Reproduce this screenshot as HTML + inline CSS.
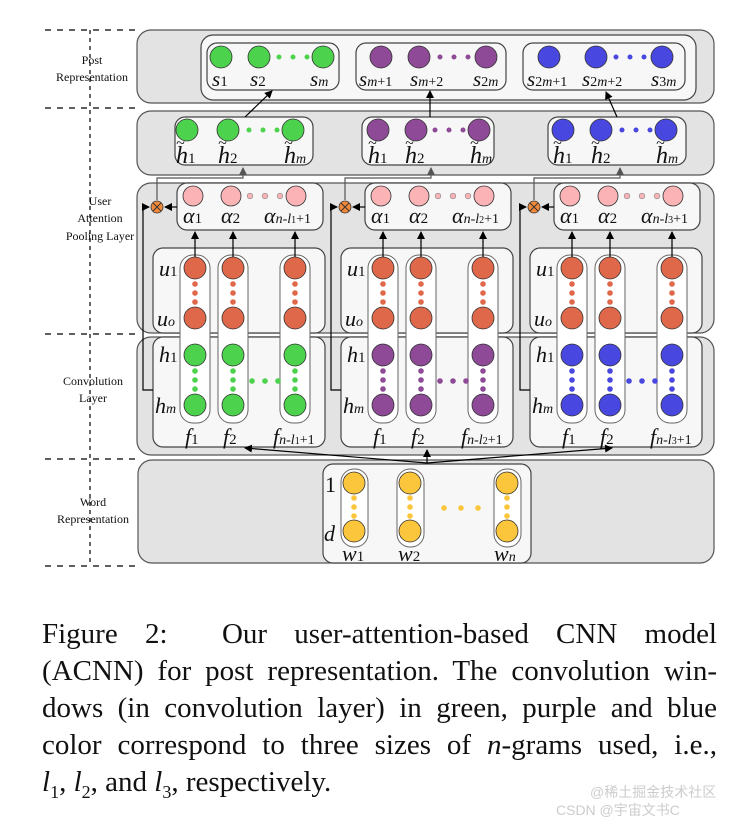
<!DOCTYPE html>
<html><head><meta charset="utf-8"><style>
body{margin:0;background:#fff;width:752px;height:821px;overflow:hidden}
svg{position:absolute;left:0;top:0}
.cap{position:absolute;left:42px;top:616px;width:675px;font-family:"Liberation Serif",serif;font-size:29px;line-height:37px;color:#111}
.cap div{text-align:justify;text-align-last:justify;white-space:nowrap;height:37px}
.cap div.last{text-align-last:left}
text{font-family:"Liberation Serif",serif;fill:#111}
.it{font-style:italic}
</style></head><body>
<svg width="752" height="821" viewBox="0 0 752 821">
<defs><marker id="a" markerWidth="8" markerHeight="8" refX="7" refY="4" orient="auto" markerUnits="userSpaceOnUse"><path d="M0,0L8,4L0,8z" fill="#000"/></marker>
<marker id="g" markerWidth="8" markerHeight="8" refX="7" refY="4" orient="auto" markerUnits="userSpaceOnUse"><path d="M0,0L8,4L0,8z" fill="#555"/></marker></defs>
<g stroke="#000" stroke-width="1.2"><line x1="90" y1="30" x2="90" y2="565" stroke-dasharray="4,4"/>
<line x1="45" y1="30" x2="135" y2="30" stroke-dasharray="6,6"/><line x1="45" y1="108" x2="135" y2="108" stroke-dasharray="6,6"/><line x1="45" y1="334" x2="135" y2="334" stroke-dasharray="6,6"/><line x1="45" y1="459" x2="135" y2="459" stroke-dasharray="6,6"/><line x1="45" y1="566" x2="135" y2="566" stroke-dasharray="6,6"/></g>
<g font-size="12" text-anchor="middle"><text x="92" y="64">Post</text><text x="92" y="81">Representation</text>
<text x="100" y="205">User</text><text x="100" y="222">Attention</text><text x="100" y="240">Pooling Layer</text>
<text x="93" y="385">Convolution</text><text x="93" y="402">Layer</text>
<text x="93" y="506">Word</text><text x="93" y="523">Representation</text></g>
<g fill="#e3e3e3" stroke="#555" stroke-width="1.2">
<rect x="137" y="30" width="577" height="73" rx="14"/><rect x="137" y="111" width="577" height="64" rx="14"/>
<rect x="137" y="183" width="577" height="150" rx="14"/><rect x="137" y="337" width="577" height="118" rx="14"/>
<rect x="138" y="460" width="576" height="103" rx="14"/></g>
<rect x="201" y="35" width="495" height="65" rx="12" fill="#f7f7f7" stroke="#444" stroke-width="1.2"/>
<g fill="#f7f7f7" stroke="#444" stroke-width="1.2"><rect x="207" y="43" width="132" height="47" rx="10"/><rect x="356" y="43" width="150" height="47" rx="10"/><rect x="523" y="43" width="162" height="47" rx="10"/></g>
<g stroke="#333" stroke-width="0.8">
<circle cx="221" cy="57" r="11" fill="#4cd24c"/><circle cx="259" cy="57" r="11" fill="#4cd24c"/><circle cx="323" cy="57" r="11" fill="#4cd24c"/>
<circle cx="381" cy="57" r="11" fill="#8e4a96"/><circle cx="419" cy="57" r="11" fill="#8e4a96"/><circle cx="486" cy="57" r="11" fill="#8e4a96"/>
<circle cx="549" cy="57" r="11" fill="#4848e0"/><circle cx="596" cy="57" r="11" fill="#4848e0"/><circle cx="662" cy="57" r="11" fill="#4848e0"/></g>
<g><circle cx="279" cy="57" r="2.5" fill="#4cd24c"/><circle cx="293" cy="57" r="2.5" fill="#4cd24c"/><circle cx="307" cy="57" r="2.5" fill="#4cd24c"/>
<circle cx="440" cy="57" r="2.5" fill="#8e4a96"/><circle cx="454" cy="57" r="2.5" fill="#8e4a96"/><circle cx="468" cy="57" r="2.5" fill="#8e4a96"/>
<circle cx="616" cy="57" r="2.5" fill="#4848e0"/><circle cx="630" cy="57" r="2.5" fill="#4848e0"/><circle cx="644" cy="57" r="2.5" fill="#4848e0"/></g>
<g font-size="21"><text x="212" y="86" class="it">s<tspan font-size="15" font-style="normal">1</tspan></text><text x="250" y="86" class="it">s<tspan font-size="15" font-style="normal">2</tspan></text><text x="310" y="86" class="it">s<tspan font-size="14">m</tspan></text>
<text x="359" y="86" class="it">s<tspan font-size="14">m</tspan><tspan font-size="14" font-style="normal">+1</tspan></text><text x="410" y="86" class="it">s<tspan font-size="14">m</tspan><tspan font-size="14" font-style="normal">+2</tspan></text><text x="473" y="86" class="it">s<tspan font-size="14" font-style="normal">2</tspan><tspan font-size="14">m</tspan></text>
<text x="527" y="86" class="it">s<tspan font-size="14" font-style="normal">2</tspan><tspan font-size="14">m</tspan><tspan font-size="14" font-style="normal">+1</tspan></text><text x="582" y="86" class="it">s<tspan font-size="14" font-style="normal">2</tspan><tspan font-size="14">m</tspan><tspan font-size="14" font-style="normal">+2</tspan></text><text x="651" y="86" class="it">s<tspan font-size="14" font-style="normal">3</tspan><tspan font-size="14">m</tspan></text></g>
<g fill="#f7f7f7" stroke="#444" stroke-width="1.2"><rect x="175" y="117" width="138" height="48" rx="10"/><rect x="362" y="117" width="132" height="48" rx="10"/><rect x="548" y="117" width="138" height="48" rx="10"/></g>
<g stroke="#333" stroke-width="0.8">
<circle cx="187" cy="130" r="11" fill="#4cd24c"/><circle cx="228" cy="130" r="11" fill="#4cd24c"/><circle cx="293" cy="130" r="11" fill="#4cd24c"/>
<circle cx="378" cy="130" r="11" fill="#8e4a96"/><circle cx="416" cy="130" r="11" fill="#8e4a96"/><circle cx="479" cy="130" r="11" fill="#8e4a96"/>
<circle cx="563" cy="130" r="11" fill="#4848e0"/><circle cx="601" cy="130" r="11" fill="#4848e0"/><circle cx="666" cy="130" r="11" fill="#4848e0"/></g>
<g><circle cx="249" cy="130" r="2.5" fill="#4cd24c"/><circle cx="263" cy="130" r="2.5" fill="#4cd24c"/><circle cx="277" cy="130" r="2.5" fill="#4cd24c"/>
<circle cx="435" cy="130" r="2.5" fill="#8e4a96"/><circle cx="449" cy="130" r="2.5" fill="#8e4a96"/><circle cx="463" cy="130" r="2.5" fill="#8e4a96"/>
<circle cx="622" cy="130" r="2.5" fill="#4848e0"/><circle cx="636" cy="130" r="2.5" fill="#4848e0"/><circle cx="650" cy="130" r="2.5" fill="#4848e0"/></g>
<g font-size="24" class="it">
<text x="176" y="163">h<tspan font-size="15" font-style="normal">1</tspan></text><text x="176" y="148" font-size="16">~</text><text x="218" y="163">h<tspan font-size="15" font-style="normal">2</tspan></text><text x="218" y="148" font-size="16">~</text><text x="284" y="163">h<tspan font-size="14">m</tspan></text><text x="284" y="148" font-size="16">~</text>
<text x="368" y="163">h<tspan font-size="15" font-style="normal">1</tspan></text><text x="368" y="148" font-size="16">~</text><text x="405" y="163">h<tspan font-size="15" font-style="normal">2</tspan></text><text x="405" y="148" font-size="16">~</text><text x="470" y="163">h<tspan font-size="14">m</tspan></text><text x="470" y="148" font-size="16">~</text>
<text x="553" y="163">h<tspan font-size="15" font-style="normal">1</tspan></text><text x="553" y="148" font-size="16">~</text><text x="591" y="163">h<tspan font-size="15" font-style="normal">2</tspan></text><text x="591" y="148" font-size="16">~</text><text x="656" y="163">h<tspan font-size="14">m</tspan></text><text x="656" y="148" font-size="16">~</text></g>
<g stroke="#000" stroke-width="1.2" fill="none"><line x1="245" y1="117" x2="272" y2="91" marker-end="url(#a)"/><line x1="430" y1="117" x2="430" y2="91" marker-end="url(#a)"/><line x1="617" y1="117" x2="606" y2="92" marker-end="url(#a)"/></g>

<g id="sec">
<rect x="177" y="183" width="146" height="47" rx="10" fill="#f7f7f7" stroke="#444" stroke-width="1.2"/>
<rect x="153" y="248" width="172" height="85" rx="10" fill="#f7f7f7" stroke="#444" stroke-width="1.2"/>
<rect x="153" y="337" width="172" height="110" rx="10" fill="#f7f7f7" stroke="#444" stroke-width="1.2"/>
<g fill="#fff" stroke="#666" stroke-width="1"><rect x="180" y="255" width="30" height="168" rx="13"/><rect x="218" y="255" width="30" height="168" rx="13"/><rect x="280" y="255" width="30" height="168" rx="13"/></g>
<g stroke="#333" stroke-width="0.8" fill="#fbb3b5"><circle cx="193" cy="196" r="10"/><circle cx="231" cy="196" r="10"/><circle cx="296" cy="196" r="10"/></g>
<g fill="#fbb3b5" stroke="#888" stroke-width="0.6"><circle cx="250" cy="196" r="2.8"/><circle cx="265" cy="196" r="2.8"/><circle cx="280" cy="196" r="2.8"/></g>
<g stroke="#333" stroke-width="0.8" fill="#e0684a"><circle cx="195" cy="268" r="11"/><circle cx="233" cy="268" r="11"/><circle cx="295" cy="268" r="11"/><circle cx="195" cy="318" r="11"/><circle cx="233" cy="318" r="11"/><circle cx="295" cy="318" r="11"/></g>
<g fill="#e0684a"><circle cx="195" cy="284" r="2.8"/><circle cx="195" cy="293" r="2.8"/><circle cx="195" cy="302" r="2.8"/><circle cx="233" cy="284" r="2.8"/><circle cx="233" cy="293" r="2.8"/><circle cx="233" cy="302" r="2.8"/><circle cx="295" cy="284" r="2.8"/><circle cx="295" cy="293" r="2.8"/><circle cx="295" cy="302" r="2.8"/></g>
<g stroke="#000" stroke-width="1.2"><line x1="195" y1="257" x2="195" y2="232" marker-end="url(#a)"/><line x1="233" y1="257" x2="233" y2="232" marker-end="url(#a)"/><line x1="295" y1="257" x2="295" y2="232" marker-end="url(#a)"/>
<line x1="177" y1="207" x2="165" y2="207" marker-end="url(#a)"/><polyline points="153,390 143,390 143,207 149,207" fill="none" marker-end="url(#a)"/></g>
<polyline points="157,200 157,178 243,178 243,168" fill="none" stroke="#555" stroke-width="1.2" marker-end="url(#g)"/>
<circle cx="157" cy="207" r="6" fill="#f08a3a" stroke="#333" stroke-width="0.8"/><path d="M153,203L161,211M161,203L153,211" stroke="#333" stroke-width="0.9"/>
<g font-size="22" class="it"><text x="159" y="276">u<tspan font-size="15" font-style="normal">1</tspan></text><text x="157" y="326">u<tspan font-size="14">o</tspan></text>
<text x="159" y="362">h<tspan font-size="15" font-style="normal">1</tspan></text><text x="155" y="413">h<tspan font-size="14">m</tspan></text>
<text x="183" y="223">α<tspan font-size="15" font-style="normal">1</tspan></text><text x="221" y="223">α<tspan font-size="15" font-style="normal">2</tspan></text>
<text x="185" y="444">f<tspan font-size="15" font-style="normal">1</tspan></text><text x="223" y="444">f<tspan font-size="15" font-style="normal">2</tspan></text></g>
</g>
<g stroke="#333" stroke-width="0.8" fill="#4cd24c"><circle cx="195" cy="355" r="11"/><circle cx="233" cy="355" r="11"/><circle cx="295" cy="355" r="11"/><circle cx="195" cy="405" r="11"/><circle cx="233" cy="405" r="11"/><circle cx="295" cy="405" r="11"/></g>
<g fill="#4cd24c"><circle cx="195" cy="371" r="2.8"/><circle cx="195" cy="380" r="2.8"/><circle cx="195" cy="389" r="2.8"/><circle cx="233" cy="371" r="2.8"/><circle cx="233" cy="380" r="2.8"/><circle cx="233" cy="389" r="2.8"/><circle cx="295" cy="371" r="2.8"/><circle cx="295" cy="380" r="2.8"/><circle cx="295" cy="389" r="2.8"/><circle cx="252" cy="381" r="2.8"/><circle cx="265" cy="381" r="2.8"/><circle cx="278" cy="381" r="2.8"/></g>
<g font-size="22" class="it"><text x="264" y="223">α<tspan font-size="14">n</tspan><tspan font-size="14" font-style="normal">-</tspan><tspan font-size="14">l</tspan><tspan font-size="10" font-style="normal">1</tspan><tspan font-size="14" font-style="normal">+1</tspan></text>
<text x="273" y="444">f<tspan font-size="14">n</tspan><tspan font-size="14" font-style="normal">-</tspan><tspan font-size="14">l</tspan><tspan font-size="10" font-style="normal">1</tspan><tspan font-size="14" font-style="normal">+1</tspan></text></g>

<use href="#sec" transform="translate(188,0)"/>
<g transform="translate(188,0)">
<g stroke="#333" stroke-width="0.8" fill="#8e4a96"><circle cx="195" cy="355" r="11"/><circle cx="233" cy="355" r="11"/><circle cx="295" cy="355" r="11"/><circle cx="195" cy="405" r="11"/><circle cx="233" cy="405" r="11"/><circle cx="295" cy="405" r="11"/></g>
<g fill="#8e4a96"><circle cx="195" cy="371" r="2.8"/><circle cx="195" cy="380" r="2.8"/><circle cx="195" cy="389" r="2.8"/><circle cx="233" cy="371" r="2.8"/><circle cx="233" cy="380" r="2.8"/><circle cx="233" cy="389" r="2.8"/><circle cx="295" cy="371" r="2.8"/><circle cx="295" cy="380" r="2.8"/><circle cx="295" cy="389" r="2.8"/><circle cx="252" cy="381" r="2.8"/><circle cx="265" cy="381" r="2.8"/><circle cx="278" cy="381" r="2.8"/></g>
<g font-size="22" class="it"><text x="264" y="223">α<tspan font-size="14">n</tspan><tspan font-size="14" font-style="normal">-</tspan><tspan font-size="14">l</tspan><tspan font-size="10" font-style="normal">2</tspan><tspan font-size="14" font-style="normal">+1</tspan></text>
<text x="273" y="444">f<tspan font-size="14">n</tspan><tspan font-size="14" font-style="normal">-</tspan><tspan font-size="14">l</tspan><tspan font-size="10" font-style="normal">2</tspan><tspan font-size="14" font-style="normal">+1</tspan></text></g></g>

<use href="#sec" transform="translate(377,0)"/>
<g transform="translate(377,0)">
<g stroke="#333" stroke-width="0.8" fill="#4848e0"><circle cx="195" cy="355" r="11"/><circle cx="233" cy="355" r="11"/><circle cx="295" cy="355" r="11"/><circle cx="195" cy="405" r="11"/><circle cx="233" cy="405" r="11"/><circle cx="295" cy="405" r="11"/></g>
<g fill="#4848e0"><circle cx="195" cy="371" r="2.8"/><circle cx="195" cy="380" r="2.8"/><circle cx="195" cy="389" r="2.8"/><circle cx="233" cy="371" r="2.8"/><circle cx="233" cy="380" r="2.8"/><circle cx="233" cy="389" r="2.8"/><circle cx="295" cy="371" r="2.8"/><circle cx="295" cy="380" r="2.8"/><circle cx="295" cy="389" r="2.8"/><circle cx="252" cy="381" r="2.8"/><circle cx="265" cy="381" r="2.8"/><circle cx="278" cy="381" r="2.8"/></g>
<g font-size="22" class="it"><text x="264" y="223">α<tspan font-size="14">n</tspan><tspan font-size="14" font-style="normal">-</tspan><tspan font-size="14">l</tspan><tspan font-size="10" font-style="normal">3</tspan><tspan font-size="14" font-style="normal">+1</tspan></text>
<text x="273" y="444">f<tspan font-size="14">n</tspan><tspan font-size="14" font-style="normal">-</tspan><tspan font-size="14">l</tspan><tspan font-size="10" font-style="normal">3</tspan><tspan font-size="14" font-style="normal">+1</tspan></text></g></g>

<rect x="323" y="464" width="208" height="99" rx="10" fill="#f7f7f7" stroke="#444" stroke-width="1.2"/>
<g fill="#fff" stroke="#666" stroke-width="1"><rect x="341" y="469" width="27" height="78" rx="13"/><rect x="397" y="469" width="27" height="78" rx="13"/><rect x="494" y="469" width="27" height="78" rx="13"/></g>
<g stroke="#333" stroke-width="0.8" fill="#fcc63c"><circle cx="354" cy="483" r="11"/><circle cx="410" cy="483" r="11"/><circle cx="507" cy="483" r="11"/><circle cx="354" cy="531" r="11"/><circle cx="410" cy="531" r="11"/><circle cx="507" cy="531" r="11"/></g>
<g fill="#fcc63c"><circle cx="354" cy="498" r="2.8"/><circle cx="354" cy="507" r="2.8"/><circle cx="354" cy="516" r="2.8"/><circle cx="410" cy="498" r="2.8"/><circle cx="410" cy="507" r="2.8"/><circle cx="410" cy="516" r="2.8"/><circle cx="507" cy="498" r="2.8"/><circle cx="507" cy="507" r="2.8"/><circle cx="507" cy="516" r="2.8"/><circle cx="444" cy="508" r="2.8"/><circle cx="461" cy="508" r="2.8"/><circle cx="478" cy="508" r="2.8"/></g>
<g font-size="22"><text x="325" y="492">1</text><text x="324" y="541" class="it">d</text>
<text x="342" y="561" class="it">w<tspan font-size="15" font-style="normal">1</tspan></text><text x="398" y="561" class="it">w<tspan font-size="15" font-style="normal">2</tspan></text><text x="494" y="561" class="it">w<tspan font-size="14">n</tspan></text></g>
<g stroke="#000" stroke-width="1.2" fill="none"><line x1="427" y1="463" x2="427" y2="450" marker-end="url(#a)"/><line x1="427" y1="463" x2="245" y2="448" marker-end="url(#a)"/><line x1="427" y1="463" x2="612" y2="448" marker-end="url(#a)"/></g>
</svg>
<div class="cap">
<div>Figure 2:&nbsp; Our user-attention-based CNN model</div>
<div>(ACNN) for post representation. The convolution win-</div>
<div>dows (in convolution layer) in green, purple and blue</div>
<div>color correspond to three sizes of <i>n</i>-grams used, i.e.,</div>
<div class="last"><i>l</i><sub style="font-size:18px;line-height:0">1</sub>, <i>l</i><sub style="font-size:18px;line-height:0">2</sub>, and <i>l</i><sub style="font-size:18px;line-height:0">3</sub>, respectively.</div>
</div>
<div style="position:absolute;left:590px;top:782px;font-family:'Liberation Sans','Noto Sans CJK SC',sans-serif;font-size:14px;color:#ccc">@稀土掘金技术社区</div>
<div style="position:absolute;left:556px;top:800px;font-family:'Liberation Sans','Noto Sans CJK SC',sans-serif;font-size:14px;color:#ccc">CSDN @宇宙文书C</div>
</body></html>
